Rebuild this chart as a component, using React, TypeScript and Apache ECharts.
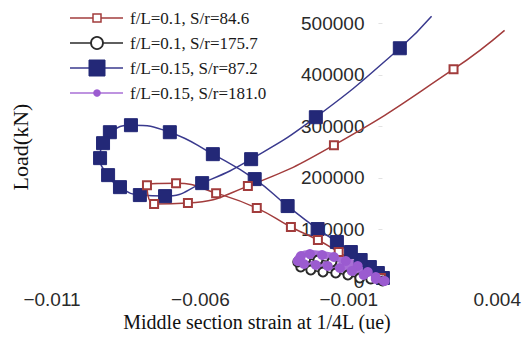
import React, { useEffect, useRef } from "react";
import * as echarts from "echarts";

// [strain, load] pairs
const seriesNames = [
  "f/L=0.1, S/r=84.6",
  "f/L=0.1, S/r=175.7",
  "f/L=0.15, S/r=87.2",
  "f/L=0.15, S/r=181.0",
];

const redData: [number, number][] = [
  [0.00008, 5800], [-0.00134, 56200], [-0.00204, 79500], [-0.00295, 104700],
  [-0.0041, 141500], [-0.00547, 170500], [-0.00682, 189900], [-0.0078, 186000],
  [-0.00756, 149200], [-0.00642, 151200], [-0.0044, 184100], [-0.0015, 263600],
  [0.00253, 410900],
];
const redEnd: [number, number] = [0.00425, 486400];

const blackData: [number, number][] = [
  [0.00014, 0], [-0.00026, 3900], [-0.00063, 5800], [-0.00103, 11600],
  [-0.00144, 15500], [-0.00187, 17400], [-0.00228, 21300], [-0.00262, 27100],
  [-0.00272, 36800], [-0.00245, 42600], [-0.00204, 40700], [-0.00157, 36800],
];

const blueData: [number, number][] = [
  [0.00015, 5800], [-0.00002, 15500], [-0.00029, 27100], [-0.0006, 40700],
  [-0.00093, 56200], [-0.0014, 75600], [-0.00205, 100800], [-0.00306, 145400],
  [-0.00417, 197700], [-0.00558, 246100], [-0.00703, 288700], [-0.00834, 302300],
  [-0.00905, 288700], [-0.00928, 267400], [-0.00938, 238400], [-0.00911, 205400],
  [-0.00871, 182100], [-0.00804, 166700], [-0.00719, 164700], [-0.00594, 189900],
  [-0.00429, 236400], [-0.00211, 317800], [0.00072, 451600],
];
const blueEnd: [number, number] = [0.00179, 513600];

const purpleData: [number, number][] = [
  [0.00018, 0], [-0.00009, 7800], [-0.00036, 17400], [-0.0007, 29100],
  [-0.0011, 38800], [-0.0015, 46500], [-0.0019, 50400], [-0.00231, 52300],
  [-0.00261, 48500], [-0.00272, 38800], [-0.00251, 32900], [-0.00211, 31000],
  [-0.00171, 29100], [-0.0013, 25200], [-0.0009, 19400], [-0.0005, 11600],
  [-0.00009, 3900], [0.00021, 0],
];

const xMin = -0.011;
const xMax = 0.0045;
const xInterval = 0.005;
const yMin = 0;
const yMax = 520000;
const yInterval = 100000;

const xTitle = "Middle section strain at 1/4L (ue)";
const yTitle = "Load(kN)";

const RED = "#a23c3c";
const BLACK = "#2a2a2a";
const BLUE = "#3a3a8e";
const BLUE_FILL = "#232877";
const PURPLE = "#a86fd6";
const PURPLE_FILL = "#9b5bd0";

const GRID_LEFT = 52;
const GRID_WIDTH = 460;

export default function App() {
  const ref = useRef<HTMLDivElement>(null);
  useEffect(() => {
    if (!ref.current) return;
    const chart = echarts.init(ref.current, null, { renderer: "svg" });
    const legendRows = [18, 43, 68, 93];
    const legendGraphics: any[] = [];
    const lineColors = [RED, BLACK, BLUE, PURPLE];
    legendRows.forEach((y, i) => {
      legendGraphics.push({
        type: "line",
        shape: { x1: 70, y1: y, x2: 123, y2: y },
        style: { stroke: lineColors[i], lineWidth: 1.5 },
      });
    });
    legendGraphics.push({
      type: "rect",
      shape: { x: 93, y: legendRows[0] - 4, width: 8, height: 8 },
      style: { fill: "#fff", stroke: RED, lineWidth: 1.5 },
    });
    legendGraphics.push({
      type: "circle",
      shape: { cx: 97, cy: legendRows[1], r: 6 },
      style: { fill: "#fff", stroke: BLACK, lineWidth: 1.8 },
    });
    legendGraphics.push({
      type: "rect",
      shape: { x: 89, y: legendRows[2] - 8, width: 16, height: 16 },
      style: { fill: BLUE_FILL, stroke: BLUE_FILL },
    });
    legendGraphics.push({
      type: "circle",
      shape: { cx: 97, cy: legendRows[3], r: 3.8 },
      style: { fill: PURPLE_FILL },
    });
    legendRows.forEach((y, i) => {
      legendGraphics.push({
        type: "text",
        x: 130,
        y: y,
        style: {
          text: seriesNames[i],
          font: '17px "Liberation Serif"',
          fill: "#1a1a1a",
          align: "left",
          verticalAlign: "middle",
        },
      });
    });
    legendGraphics.push({
      type: "text",
      x: 257,
      y: 322,
      style: {
        text: xTitle,
        font: '20px "Liberation Serif"',
        fill: "#111",
        align: "center",
        verticalAlign: "middle",
      },
    });
    legendGraphics.push({
      type: "text",
      x: 20,
      y: 147,
      rotation: Math.PI / 2,
      style: {
        text: yTitle,
        font: '22px "Liberation Serif"',
        fill: "#111",
        align: "center",
        verticalAlign: "middle",
      },
    });

    const labelStyle = {
      fontFamily: '"Liberation Sans", Arial, sans-serif',
      fontSize: 19,
      color: "#2a2a2a",
    };

    // y axis sits at strain = 0
    const yAxisOffset = -((0 - xMin) / (xMax - xMin)) * GRID_WIDTH;

    chart.setOption({
      animation: false,
      backgroundColor: "#fff",
      grid: { left: GRID_LEFT, width: GRID_WIDTH, top: 13, height: 268, outerBoundsMode: "none" },
      xAxis: {
        type: "value",
        min: xMin,
        max: xMax,
        interval: xInterval,
        splitLine: { show: false },
        axisLine: { show: false, onZero: false },
        axisTick: { show: false },
        axisLabel: {
          ...labelStyle,
          margin: 9,
          showMaxLabel: false,
          formatter: (v: number) =>
            (v < -1e-12 ? "\u2212" : "") + Math.abs(v).toFixed(3),
        },
      },
      yAxis: {
        type: "value",
        min: yMin,
        max: yMax,
        interval: yInterval,
        offset: yAxisOffset,
        splitLine: { show: false },
        axisLine: { show: false, onZero: false },
        axisTick: { show: true, inside: true, length: 4, lineStyle: { color: "#e2e2e2" } },
        axisLabel: {
          ...labelStyle,
          margin: 14,
          showMaxLabel: false,
          formatter: (v: number) => String(Math.round(v)),
        },
      },
      graphic: legendGraphics,
      series: [
        {
          name: seriesNames[2],
          type: "line",
          smooth: true,
          data: [...blueData, { value: blueEnd, symbol: "none" }],
          symbol: "rect",
          symbolSize: 13,
          lineStyle: { color: BLUE, width: 1.5 },
          itemStyle: { color: BLUE_FILL, borderColor: BLUE_FILL },
        },
        {
          name: seriesNames[0],
          type: "line",
          smooth: true,
          data: [...redData, { value: redEnd, symbol: "none" }],
          symbol: "emptyRect",
          symbolSize: 8,
          lineStyle: { color: RED, width: 1.5 },
          itemStyle: { color: RED, borderWidth: 1.5 },
        },
        {
          name: seriesNames[1],
          type: "line",
          smooth: true,
          data: blackData,
          symbol: "emptyCircle",
          symbolSize: 9,
          lineStyle: { color: BLACK, width: 1.5 },
          itemStyle: { color: BLACK, borderWidth: 1.5 },
        },
        {
          name: seriesNames[3],
          type: "line",
          smooth: true,
          data: purpleData,
          symbol: "circle",
          symbolSize: 10,
          lineStyle: { color: PURPLE, width: 8 },
          itemStyle: { color: PURPLE_FILL },
        },
      ],
    });
    return () => chart.dispose();
  }, []);
  return <div ref={ref} style={{ width: 523, height: 343, position: "absolute", left: 0, top: 0 }} />;
}
